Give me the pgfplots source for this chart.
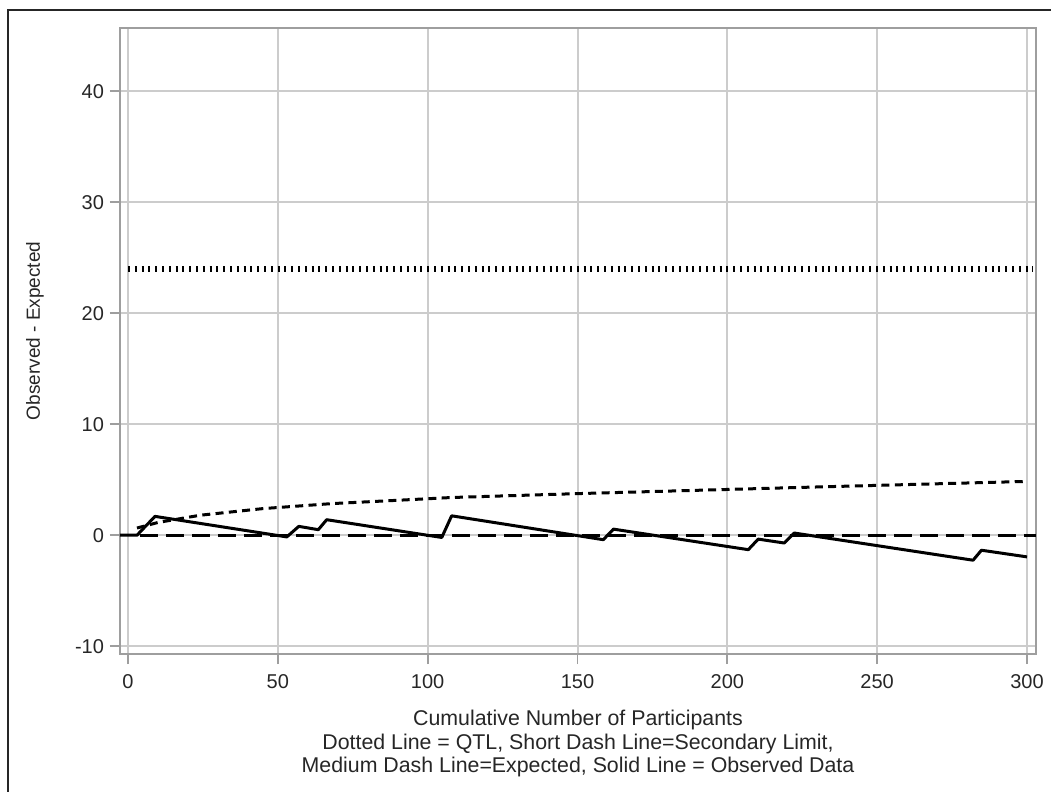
\documentclass[border=0pt]{standalone}
\usepackage{pgfplots}
\pgfplotsset{compat=1.18}
\usepackage{fontspec}
\setmainfont{Liberation Sans}
\begin{document}
\begin{tikzpicture}
\useasboundingbox (0,0) rectangle (788.25pt,-594pt);
\draw[line width=1.5pt, black!85] (6pt,-600pt) -- (6pt,-7.5pt) -- (800pt,-7.5pt);
\begin{axis}[
  at={(90pt,-490.5pt)}, anchor=south west,
  scale only axis, width=687pt, height=469.5pt,
  xmin=-2.67, xmax=303, ymin=-10.7, ymax=45.7,
  xtick={0,50,...,300}, ytick={-10,0,...,40},
  grid=major, major grid style={draw=black!20, line width=1.5pt},
  axis line style={draw=black!38, line width=1.3pt},
  tick style={draw=black!38, line width=1.3pt},
  tick align=outside, major tick length=7.5pt,
  xtick pos=bottom, ytick pos=left,
  /pgf/number format/assume math mode=true,
  tick label style={font=\fontsize{15}{17}\selectfont, text=black!85},
  xticklabel style={yshift=-4.5pt},
  yticklabel style={xshift=-1pt},
  xlabel={Cumulative Number of Participants\\Dotted Line = QTL, Short Dash Line=Secondary Limit,\\Medium Dash Line=Expected, Solid Line = Observed Data},
  xlabel style={at={(axis description cs:0.5,-0.0824)}, anchor=north, align=center, font=\fontsize{16}{17.6}\selectfont, text=black!85},
  ylabel={Observed - Expected},
  ylabel style={at={(axis description cs:-0.0928,0.516)}, anchor=center, font=\fontsize{14.25}{17}\selectfont, text=black!85},
]
\addplot[black, line width=5pt, dash pattern=on 1.5pt off 3.6pt] coordinates {(0,24) (302,24)};
\addplot[black, line width=2.25pt, dash pattern=on 6pt off 4pt] coordinates {
(3,0.65) (10,1.15) (24,1.8) (45,2.4) (68,2.85) (90,3.15) (108,3.4) (150,3.75) (190,4.05) (230,4.35) (265,4.6) (300,4.85)};
\addplot[black, line width=2.5pt, dash pattern=on 13.5pt off 6pt] coordinates {(4,0) (303,0)};
\addplot[black, line width=2.25pt, line join=round] coordinates {
(-3,0) (3,0) (9,1.7) (53,-0.15) (57,0.8) (63.5,0.5) (66.3,1.4) (104.7,-0.2) (108,1.75) (158.6,-0.4) (162,0.55) (207,-1.3) (210.3,-0.35) (219,-0.7) (222.3,0.2) (282,-2.25) (284.8,-1.35) (300,-1.95)};
\end{axis}
\end{tikzpicture}
\end{document}
